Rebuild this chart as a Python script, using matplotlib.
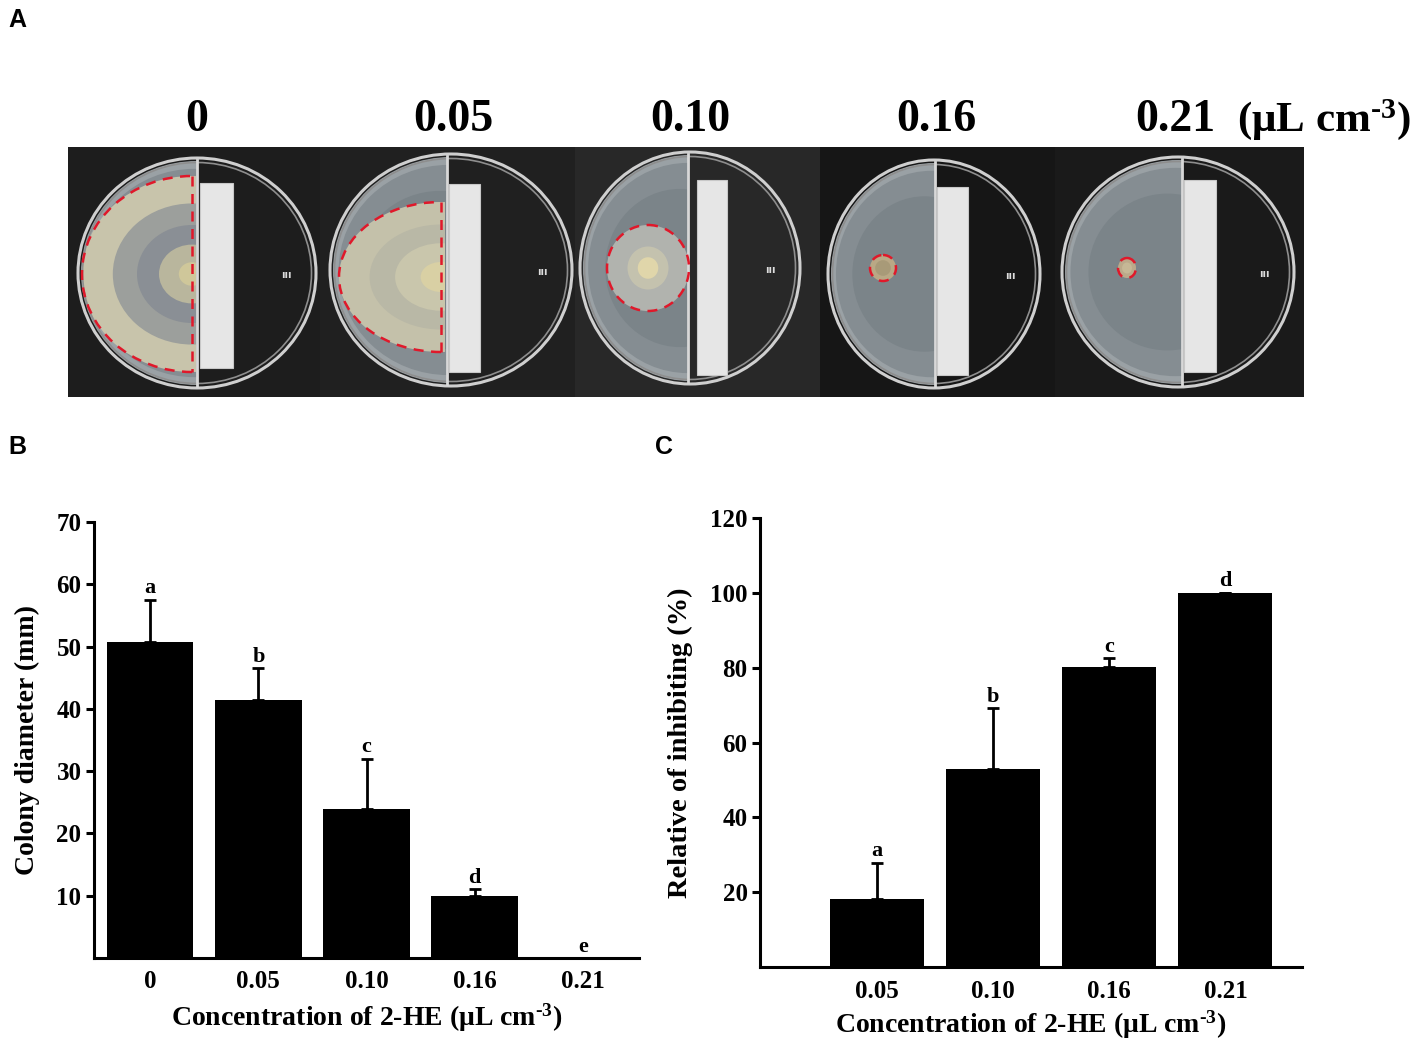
import matplotlib
matplotlib.use("Agg")
import matplotlib.pyplot as plt
from matplotlib import patches
import numpy as np

# ---------------- data ----------------
conc_labels = ["0", "0.05", "0.10", "0.16", "0.21"]
diam_mean = [50.8, 41.5, 23.9, 10.0, 0.0]
diam_err = [6.7, 5.0, 8.1, 1.0, 0.0]
diam_letters = ["a", "b", "c", "d", "e"]

inhib_labels = ["0.05", "0.10", "0.16", "0.21"]
inhib_mean = [18.2, 53.0, 80.3, 100.0]
inhib_err = [9.7, 16.1, 2.3, 0.0]
inhib_letters = ["a", "b", "c", "d"]

photo_titles = ["0", "0.05", "0.10", "0.16", "0.21"]

# ---------------- style ----------------
plt.rcParams['font.family'] = ['Liberation Serif', 'DejaVu Serif']
plt.rcParams['font.weight'] = 'bold'
plt.rcParams['mathtext.fontset'] = 'custom'
plt.rcParams['mathtext.rm'] = 'Liberation Serif:bold'
plt.rcParams['mathtext.it'] = 'Liberation Serif:bold'
plt.rcParams['mathtext.bf'] = 'Liberation Serif:bold'

W, H = 1418, 1043
fig = plt.figure(figsize=(W / 100, H / 100), dpi=100)

def ax_rect(x0, y0, x1, y1):
    return [x0 / W, 1 - y1 / H, (x1 - x0) / W, (y1 - y0) / H]

sans = dict(family=['Liberation Sans', 'DejaVu Sans'], weight='bold', fontsize=18)
fig.text(8 / W, 1 - 20 / H, "A", ha='left', va='center', **sans)
fig.text(8 / W, 1 - 447 / H, "B", ha='left', va='center', **sans)
fig.text(655 / W, 1 - 447 / H, "C", ha='left', va='center', **sans)

xlabel = r"Concentration of 2-HE (μL cm$^{\text{-3}}$)"

# ---------------- panel A (illustrated photo) ----------------
axA = fig.add_axes(ax_rect(68, 147, 1304, 397))
axA.set_xlim(68, 1304)
axA.set_ylim(397, 147)
axA.axis('off')

seg_edges = [68, 320, 575, 820, 1055, 1304]
seg_cols = ['#1d1d1d', '#202020', '#282828', '#161616', '#1a1a1a']
for i in range(5):
    axA.add_patch(patches.Rectangle((seg_edges[i], 147), seg_edges[i + 1] - seg_edges[i], 250,
                                    facecolor=seg_cols[i], edgecolor='none', zorder=0))

# dish geometry: (cx, cy, rx, ry, divider_x, strip_x0, strip_x1, strip_y0, strip_y1)
dishes = [
    (197, 273, 119, 115, 197, 200, 233, 183, 368),
    (451, 270, 121, 116, 447, 449, 480, 184, 372),
    (690, 268, 110, 116, 688, 697, 727, 180, 375),
    (934, 274, 106, 114, 935, 937, 968, 187, 375),
    (1178, 272, 116, 115, 1182, 1184, 1216, 180, 372),
]
for k, (cx, cy, rx, ry, dx, sx0, sx1, sy0, sy1) in enumerate(dishes):
    clip = patches.Rectangle((cx - rx - 5, cy - ry - 5), dx - (cx - rx - 5), 2 * ry + 10,
                             transform=axA.transData, facecolor='none', edgecolor='none')
    axA.add_patch(clip)
    for frac, col in [(1.0, '#9aa1a5'), (0.93, '#858d92'), (0.7, '#7b8489')]:
        agar = patches.Ellipse((cx - (1 - frac) * rx * 0.3, cy), (2 * rx - 6) * frac,
                               (2 * ry - 6) * frac, facecolor=col, edgecolor='none', zorder=1)
        axA.add_patch(agar)
        agar.set_clip_path(clip)
    # rims
    axA.add_patch(patches.Ellipse((cx, cy), 2 * rx, 2 * ry, facecolor='none',
                                  edgecolor='#cfcfcf', lw=2.2, zorder=3))
    axA.add_patch(patches.Ellipse((cx, cy), 2 * rx - 9, 2 * ry - 9, facecolor='none',
                                  edgecolor='#8e8e8e', lw=1.2, zorder=3))
    axA.plot([dx, dx], [cy - ry + 2, cy + ry - 2], color='#d8d8d8', lw=2, zorder=3)
    axA.add_patch(patches.Rectangle((sx0, sy0), sx1 - sx0, sy1 - sy0, facecolor='#e6e6e6',
                                    edgecolor='#c8c8c8', lw=0.8, zorder=4))
    axA.text(cx + rx - 30, cy + 2, "ııı", color='#dddddd', fontsize=7, ha='center',
             va='center', zorder=4, family='DejaVu Sans')

# colonies
def half_colony(cx, cy, rx, ry, dx, rings):
    clip = patches.Rectangle((cx - rx - 5, cy - ry - 5), dx - (cx - rx - 5), 2 * ry + 10,
                             transform=axA.transData, facecolor='none', edgecolor='none')
    axA.add_patch(clip)
    for frac, col in rings:
        e = patches.Ellipse((cx, cy), 2 * rx * frac, 2 * ry * frac, facecolor=col,
                            edgecolor='none', zorder=2)
        axA.add_patch(e)
        e.set_clip_path(clip)
    axA.add_patch(patches.Arc((cx, cy), 2 * rx, 2 * ry, theta1=90, theta2=270,
                              color='#e0182a', lw=1.8, ls=(0, (4, 3)), zorder=5))
    axA.plot([cx, cx], [cy - ry, cy + ry], color='#e0182a', lw=1.8, ls=(0, (4, 3)), zorder=5)

half_colony(192, 274, 110, 98, 196,
            [(1.0, '#c8c4ab'), (0.72, '#9c9f9c'), (0.5, '#8a8f95'), (0.3, '#b9b69d'), (0.12, '#cfc79a')])
half_colony(441, 277, 102, 75, 445,
            [(1.0, '#c4c1aa'), (0.7, '#b9b8a6'), (0.45, '#c9c6ac'), (0.2, '#d9d0a4')])

for (cx, cy, rx, ry, rings) in [
    (648, 268, 41, 43, [(1.0, '#b1b3ae'), (0.5, '#c4c2ae'), (0.25, '#e0d6aa')]),
    (883, 268, 13, 13, [(1.0, '#b9a885'), (0.6, '#a89a78')]),
    (1127, 268, 9, 10, [(1.0, '#bba98a'), (0.55, '#c6b896')]),
]:
    for frac, col in rings:
        axA.add_patch(patches.Ellipse((cx, cy), 2 * rx * frac, 2 * ry * frac, facecolor=col,
                                      edgecolor='none', zorder=2))
    axA.add_patch(patches.Ellipse((cx, cy), 2 * rx, 2 * ry, facecolor='none', edgecolor='#e0182a',
                                  lw=1.8, ls=(0, (4, 3)), zorder=5))

title_x = [197, 453, 690, 936, 1175]
for t, x in zip(photo_titles, title_x):
    fig.text(x / W, 1 - 120 / H, t, ha='center', va='center', fontsize=33, weight='bold')
fig.text(1411 / W, 1 - 120 / H, r"(μL cm$^{\text{-3}}$)", ha='right', va='center', fontsize=31,
         weight='bold')

# ---------------- common axis styling ----------------
def style(ax):
    for s in ['top', 'right']:
        ax.spines[s].set_visible(False)
    for s in ['left', 'bottom']:
        ax.spines[s].set_linewidth(2.2)
    ax.tick_params(axis='y', length=6, width=2.2, labelsize=18, pad=3)
    ax.tick_params(axis='x', length=0, labelsize=18, pad=9)
    for lab in ax.get_xticklabels() + ax.get_yticklabels():
        lab.set_fontweight('bold')

# ---------------- panel B ----------------
axB = fig.add_axes(ax_rect(94, 522, 639, 958))
xb = np.arange(len(conc_labels))
axB.bar(xb, diam_mean, width=0.8, color='black', zorder=2)
axB.errorbar(xb, diam_mean, yerr=[np.zeros(len(xb)), diam_err], fmt='none', ecolor='black',
             elinewidth=2, capsize=4, capthick=2, zorder=3)
for x, m, e, l in zip(xb, diam_mean, diam_err, diam_letters):
    axB.annotate(l, (x, m + e), xytext=(0, 1), textcoords='offset points', ha='center',
                 va='bottom', fontsize=16, weight='bold')
axB.set_xlim(-0.52, 4.52)
axB.set_ylim(0, 70)
axB.set_yticks([10, 20, 30, 40, 50, 60, 70])
axB.set_xticks(xb)
axB.set_xticklabels(conc_labels)
style(axB)
axB.set_ylabel("Colony diameter (mm)", fontsize=20, weight='bold', labelpad=12)
axB.set_xlabel(xlabel, fontsize=20, weight='bold', labelpad=6)

# ---------------- panel C ----------------
axC = fig.add_axes(ax_rect(760, 518, 1302, 967))
xc = np.arange(1, len(inhib_labels) + 1)
axC.bar(xc, inhib_mean, width=0.81, color='black', zorder=2)
axC.errorbar(xc, inhib_mean, yerr=[np.zeros(len(xc)), inhib_err], fmt='none', ecolor='black',
             elinewidth=2, capsize=4, capthick=2, zorder=3)
for x, m, e, l in zip(xc, inhib_mean, inhib_err, inhib_letters):
    axC.annotate(l, (x, m + e), xytext=(0, 1), textcoords='offset points', ha='center',
                 va='bottom', fontsize=16, weight='bold')
axC.set_xlim(-0.01, 4.66)
axC.set_ylim(0, 120)
axC.set_yticks([20, 40, 60, 80, 100, 120])
axC.set_xticks(xc)
axC.set_xticklabels(inhib_labels)
style(axC)
axC.set_ylabel("Relative of inhibiting (%)", fontsize=20.5, weight='bold', labelpad=12)
axC.set_xlabel(xlabel, fontsize=20, weight='bold', labelpad=4)

fig.savefig("out.png", dpi=100)
